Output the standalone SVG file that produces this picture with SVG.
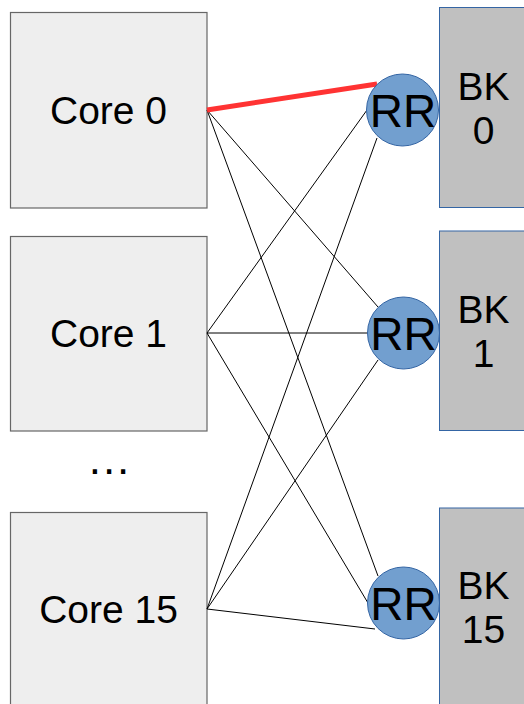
<svg xmlns="http://www.w3.org/2000/svg" width="524" height="704" viewBox="0 0 524 704">
  <style>
    .core rect { fill: #eeeeee; stroke: #666666; stroke-width: 1.2; }
    .bank rect { fill: #c0c0c0; stroke: #3465a4; stroke-width: 1; }
    .rr circle { fill: #729fcf; stroke: #3465a4; stroke-width: 1; }
    text { font-family: "Liberation Sans", Arial, sans-serif; fill: #000000; text-anchor: middle; }
    .lbl { font-size: 39px; }
    .rrl { font-size: 46px; }
    .links line { stroke: #000000; stroke-width: 1; }
    .links line.active { stroke: #ff3333; stroke-width: 5; }
  </style>
  <rect width="524" height="704" fill="#ffffff"/>

  <!-- processor cores -->
  <g id="core0" class="core">
    <rect x="10.5" y="12.5" width="196.5" height="195.5"/>
    <text class="lbl" x="108.5" y="124">Core 0</text>
  </g>
  <g id="core1" class="core">
    <rect x="10.5" y="236.5" width="196.5" height="194.5"/>
    <text class="lbl" x="108.5" y="347">Core 1</text>
  </g>
  <g id="ellipsis">
    <text x="110" y="474" font-size="44" letter-spacing="2">...</text>
  </g>
  <g id="core15" class="core">
    <rect x="10.5" y="512.5" width="196.5" height="200"/>
    <text class="lbl" x="108.5" y="623">Core 15</text>
  </g>

  <!-- crossbar links: core -> round-robin arbiter -->
  <g id="links" class="links">
    <line x1="207" y1="110" x2="378" y2="307"/>
    <line x1="207" y1="110" x2="378" y2="576"/>
    <line x1="207" y1="333" x2="367" y2="110"/>
    <line x1="207" y1="333" x2="368" y2="333"/>
    <line x1="207" y1="333" x2="368" y2="603"/>
    <line x1="207" y1="609" x2="377" y2="138"/>
    <line x1="207" y1="609" x2="378" y2="360"/>
    <line x1="207" y1="609" x2="375" y2="629"/>
    <line class="active" x1="207" y1="110" x2="377" y2="84"/>
  </g>

  <!-- memory banks -->
  <g id="bank0" class="bank">
    <rect x="439.5" y="7.5" width="100" height="200"/>
    <text class="lbl" x="483.5" y="99.5">BK</text>
    <text class="lbl" x="483.5" y="144">0</text>
  </g>
  <g id="bank1" class="bank">
    <rect x="439.5" y="231" width="100" height="199.5"/>
    <text class="lbl" x="483.5" y="322.5">BK</text>
    <text class="lbl" x="483.5" y="367">1</text>
  </g>
  <g id="bank15" class="bank">
    <rect x="439.5" y="508" width="100" height="210"/>
    <text class="lbl" x="483.5" y="598.5">BK</text>
    <text class="lbl" x="483.5" y="643">15</text>
  </g>

  <!-- round-robin arbiters -->
  <g id="rr0" class="rr">
    <circle cx="402.5" cy="110" r="36"/>
    <text class="rrl" x="403" y="126.5">RR</text>
  </g>
  <g id="rr1" class="rr">
    <circle cx="403.5" cy="333" r="36"/>
    <text class="rrl" x="403.5" y="349.5">RR</text>
  </g>
  <g id="rr15" class="rr">
    <circle cx="403.5" cy="603" r="36"/>
    <text class="rrl" x="403.5" y="619.5">RR</text>
  </g>
</svg>
